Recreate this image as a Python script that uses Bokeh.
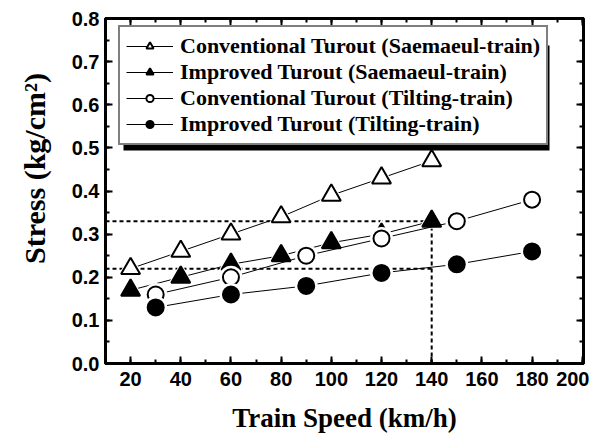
from bokeh.plotting import figure
from bokeh.models import (LinearAxis, Range1d, Legend, LegendItem, FixedTicker,
                          CustomJSTickFormatter, BoxAnnotation)
from bokeh.embed import file_html
from bokeh.resources import INLINE

# Data
speed_s = [20, 40, 60, 80, 100, 120, 140]
conv_s = [0.22, 0.26, 0.30, 0.34, 0.39, 0.43, 0.47]
impr_s = [0.17, 0.20, 0.23, 0.25, 0.28, 0.30, 0.33]
speed_t = [30, 60, 90, 120, 150, 180]
conv_t = [0.16, 0.20, 0.25, 0.29, 0.33, 0.38]
impr_t = [0.13, 0.16, 0.18, 0.21, 0.23, 0.26]
labels = ["Conventional Turout (Saemaeul-train)",
          "Improved Turout (Saemaeul-train)",
          "Conventional Turout (Tilting-train)",
          "Improved Turout (Tilting-train)"]
ref_speed = 140
ref_high = 0.33
ref_low = 0.22
x_ticks = [20, 40, 60, 80, 100, 120, 140, 160, 180, 200]
x_minor = list(range(10, 201, 10))
y_ticks = [0.0, 0.1, 0.2, 0.3, 0.4, 0.5, 0.6, 0.7, 0.8]
y_minor = [round(i * 0.05, 2) for i in range(17)]

SERIF = "Liberation Serif"
SANS = "Liberation Sans"

p = figure(frame_width=478, frame_height=345, output_backend="svg",
           toolbar_location=None, x_range=Range1d(10, 200.5), y_range=Range1d(0, 0.8),
           min_border_left=105, min_border_top=18, min_border_right=6, min_border_bottom=64)
p.grid.visible = False
p.outline_line_color = "black"
p.outline_line_width = 3
p.background_fill_color = "white"

# dashed reference lines
p.line([10, ref_speed], [ref_high, ref_high], line_dash="4 3", line_width=2, color="black")
p.line([10, ref_speed], [ref_low, ref_low], line_dash="4 3", line_width=2, color="black")
p.line([ref_speed, ref_speed], [0, ref_high], line_dash="4 3", line_width=2, color="black")

items = []
def series(xs, ys, marker, filled, size, label):
    l = p.line(xs, ys, color="black", line_width=1)
    p.scatter(xs, ys, marker=marker, size=size + 7, line_color=None, fill_color="white")
    s = p.scatter(xs, ys, marker=marker, size=size, line_color="black", line_width=2,
                  fill_color="black" if filled else "white")
    items.append(LegendItem(label=label, renderers=[l, s]))

series(speed_s, conv_s, "triangle", False, 19, labels[0])
series(speed_s, impr_s, "triangle", True, 19, labels[1])
series(speed_t, conv_t, "circle", False, 16, labels[2])
series(speed_t, impr_t, "circle", True, 16, labels[3])

# legend drop shadow (screen units, frame-relative)
shadow = BoxAnnotation(left=18, right=444, bottom=213, top=318,
                       left_units="screen", right_units="screen",
                       bottom_units="screen", top_units="screen",
                       fill_color="black", fill_alpha=1.0, line_color=None)
p.add_layout(shadow)

legend = Legend(items=items, location=(13, 218), orientation="vertical")
legend.label_text_font = SERIF
legend.label_text_font_style = "bold"
legend.label_text_font_size = "22px"
legend.label_text_color = "black"
legend.glyph_width = 47
legend.glyph_height = 18
legend.label_height = 18
legend.spacing = -2
legend.padding = 6
legend.margin = 0
legend.border_line_color = "black"
legend.border_line_width = 2
legend.background_fill_color = "white"
legend.background_fill_alpha = 1.0
legend.label_standoff = 7
p.add_layout(legend, "center")

# axes
for ax in p.xaxis + p.yaxis:
    ax.axis_line_width = 3
    ax.major_tick_in = 7
    ax.major_tick_out = 0
    ax.minor_tick_in = 4
    ax.minor_tick_out = 0
    ax.major_tick_line_width = 2
    ax.minor_tick_line_width = 2
    ax.major_label_text_font = SANS
    ax.major_label_text_font_style = "bold"
    ax.major_label_text_font_size = "20px"
    ax.major_label_text_color = "black"
    ax.axis_label_text_font = SERIF
    ax.axis_label_text_font_style = "bold"
    ax.axis_label_text_color = "black"

p.xaxis.axis_label_text_font_size = "27px"
p.yaxis.axis_label_text_font_size = "30px"
p.xaxis.ticker = FixedTicker(ticks=x_ticks, minor_ticks=x_minor)
p.yaxis.ticker = FixedTicker(ticks=y_ticks, minor_ticks=y_minor)
p.xaxis.axis_label = "Train Speed (km/h)"
p.yaxis.axis_label = "\u00a0\u00a0\u00a0\u00a0\u00a0\u00a0Stress (kg/cm²)"
p.yaxis.formatter = CustomJSTickFormatter(code="return tick.toFixed(1);")
p.xaxis.major_label_standoff = 8
p.yaxis.major_label_standoff = 6
p.xaxis.axis_label_standoff = 14
p.yaxis.axis_label_standoff = 18

def mirror(ticks, minor):
    return LinearAxis(ticker=FixedTicker(ticks=ticks, minor_ticks=minor),
                      major_label_text_color=None, major_tick_in=7, major_tick_out=0,
                      minor_tick_in=4, minor_tick_out=0, axis_line_width=3,
                      major_tick_line_width=2, minor_tick_line_width=2)
p.add_layout(mirror(x_ticks, x_minor), "above")
p.add_layout(mirror(y_ticks, y_minor), "right")
p.min_border_top = 18
p.min_border_right = 6

open("out.html", "w").write(file_html(p, INLINE))
